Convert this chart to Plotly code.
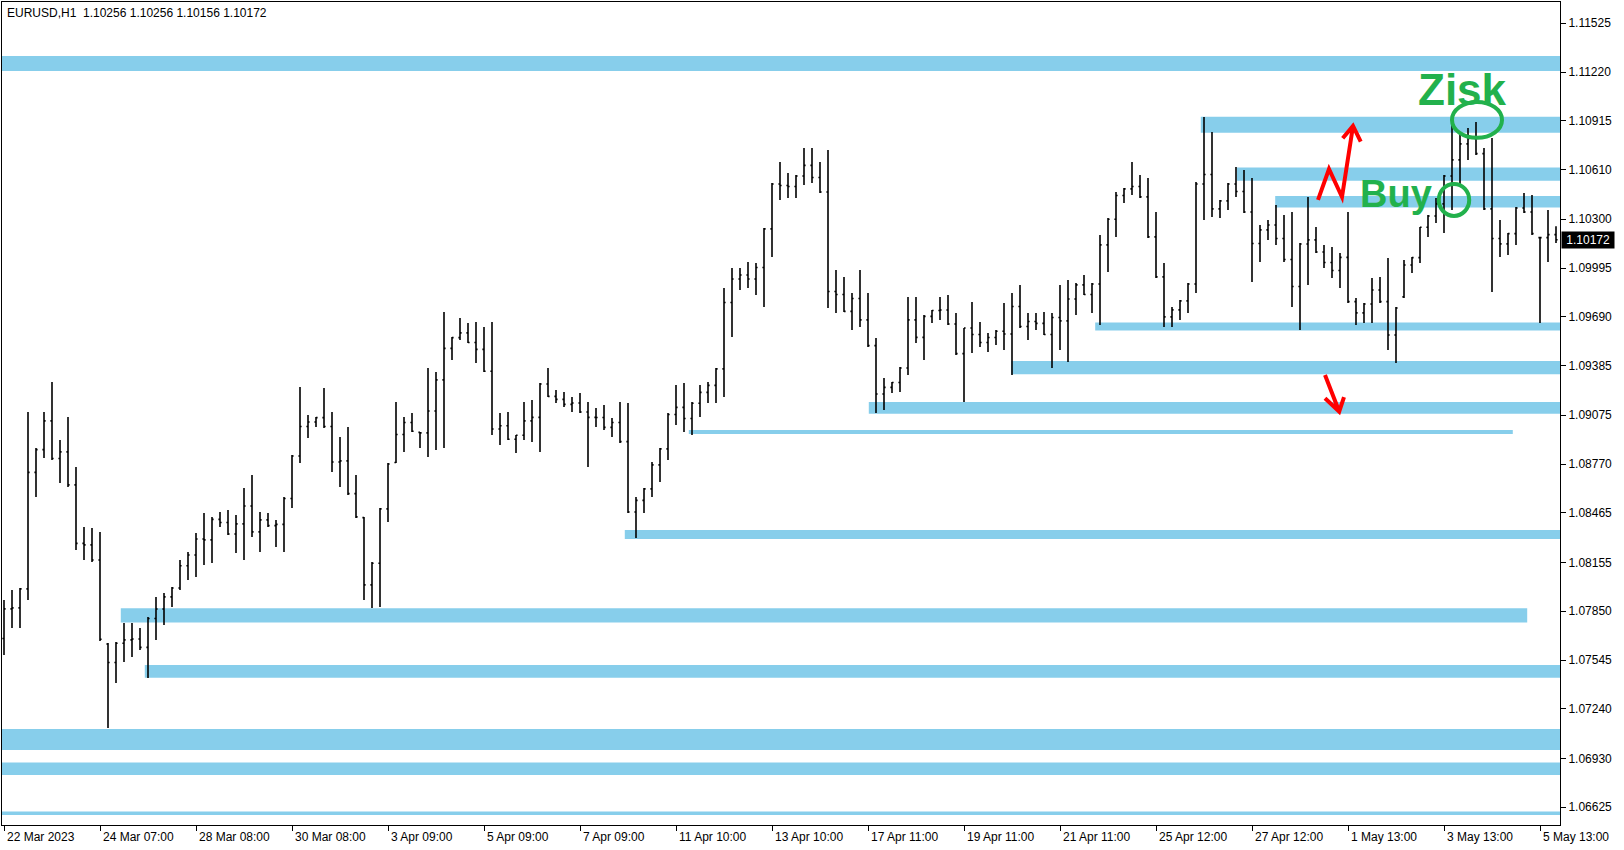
import plotly.graph_objects as go

# ---------------- data (EURUSD, 4-hour bars) ----------------
bar_open = [
1.07680,1.07865,1.07871,1.07990,1.08718,1.08860,1.09040,1.08805,1.08846,1.08640,
1.08274,1.08265,1.08170,1.07645,1.07530,1.07650,1.07671,1.07677,1.07624,1.07805,
1.07864,1.07940,1.07995,1.08134,1.08202,1.08302,1.08296,1.08424,1.08405,1.08333,
1.08396,1.08508,1.08346,1.08421,1.08385,1.08393,1.08555,1.08820,1.09005,1.09033,
1.09060,1.09005,1.08783,1.08790,1.08585,1.08435,1.08015,1.08150,1.08490,1.08780,
1.08955,1.09030,1.08968,1.08965,1.09102,1.09296,1.09493,1.09560,1.09590,1.09530,
1.09487,1.09350,1.08989,1.09009,1.08925,1.08950,1.09040,1.09062,1.09270,1.09193,
1.09174,1.09143,1.09152,1.09095,1.09062,1.09061,1.08999,1.09030,1.08910,1.08470,
1.08543,1.08615,1.08765,1.08865,1.09080,1.09124,1.09055,1.09150,1.09218,1.09262,
1.09365,1.09780,1.09927,1.09952,1.09927,1.09999,1.10240,1.10520,1.10511,1.10505,
1.10570,1.10637,1.10561,1.10470,1.09849,1.09830,1.09724,1.09805,1.09671,1.09510,
1.09208,1.09249,1.09280,1.09370,1.09671,1.09562,1.09693,1.09730,1.09733,1.09645,
1.09460,1.09620,1.09580,1.09530,1.09561,1.09600,1.09583,1.09755,1.09630,1.09661,
1.09649,1.09580,1.09686,1.09665,1.09802,1.09890,1.09830,1.09895,1.10140,1.10300,
1.10449,1.10490,1.10505,1.10440,1.10190,1.09940,1.09690,1.09734,1.09790,1.09895,
1.10520,1.10580,1.10365,1.10415,1.10520,1.10474,1.10345,1.10149,1.10234,1.10264,
1.10180,1.10049,1.09880,1.10145,1.10171,1.10095,1.10030,1.09980,1.10062,1.09785,
1.09715,1.09770,1.09858,1.09785,1.09577,1.09815,1.10014,1.10060,1.10250,1.10320,
1.10396,1.10570,1.10671,1.10771,1.10805,1.10710,1.10365,1.10180,1.10146,1.10210,
1.10370,1.10345,1.10185,1.10185,1.10204]

bar_high = [
1.07921,1.07983,1.07996,1.09096,1.08871,1.09096,1.09283,1.08921,1.09064,1.08752,
1.08377,1.08371,1.08346,1.07652,1.07658,1.07777,1.07777,1.07746,1.07814,1.07939,
1.07964,1.08002,1.08171,1.08221,1.08339,1.08464,1.08439,1.08471,1.08483,1.08452,
1.08621,1.08702,1.08471,1.08464,1.08421,1.08564,1.08827,1.09252,1.09077,1.09064,
1.09246,1.09096,1.08939,1.09002,1.08702,1.08439,1.08158,1.08496,1.08777,1.09158,
1.09064,1.09089,1.08971,1.09371,1.09346,1.09721,1.09564,1.09683,1.09652,1.09658,
1.09627,1.09658,1.09089,1.09096,1.08952,1.09158,1.09171,1.09277,1.09371,1.09233,
1.09221,1.09189,1.09214,1.09158,1.09121,1.09139,1.09058,1.09158,1.09152,1.08564,
1.08621,1.08783,1.08871,1.09089,1.09264,1.09277,1.09158,1.09264,1.09283,1.09371,
1.09871,1.09996,1.09996,1.10033,1.10027,1.10246,1.10527,1.10658,1.10589,1.10577,
1.10746,1.10746,1.10658,1.10733,1.09983,1.09939,1.09839,1.09983,1.09839,1.09558,
1.09308,1.09283,1.09377,1.09814,1.09814,1.09702,1.09733,1.09814,1.09827,1.09714,
1.09621,1.09783,1.09658,1.09589,1.09608,1.09777,1.09839,1.09889,1.09714,1.09714,
1.09721,1.09714,1.09889,1.09921,1.09902,1.09952,1.09902,1.10202,1.10308,1.10471,
1.10496,1.10658,1.10577,1.10558,1.10346,1.10027,1.09752,1.09796,1.09902,1.10533,
1.10939,1.10846,1.10421,1.10527,1.10627,1.10608,1.10558,1.10264,1.10296,1.10389,
1.10327,1.10346,1.10152,1.10439,1.10252,1.10139,1.10127,1.10089,1.10346,1.09808,
1.09777,1.09933,1.09939,1.10058,1.09752,1.10046,1.10064,1.10252,1.10327,1.10433,
1.10577,1.10889,1.10839,1.10871,1.10908,1.10746,1.10808,1.10296,1.10214,1.10377,
1.10464,1.10452,1.10189,1.10358,1.10256]

bar_low = [
1.07577,1.07746,1.07746,1.07921,1.08564,1.08808,1.08796,1.08652,1.08627,1.08233,
1.08171,1.08158,1.07664,1.07121,1.07402,1.07533,1.07564,1.07608,1.07433,1.07671,
1.07764,1.07877,1.07983,1.08046,1.08064,1.08139,1.08152,1.08377,1.08327,1.08214,
1.08171,1.08314,1.08221,1.08377,1.08252,1.08221,1.08496,1.08777,1.08933,1.09002,
1.08996,1.08721,1.08627,1.08577,1.08433,1.07921,1.07871,1.07877,1.08408,1.08777,
1.08846,1.08971,1.08871,1.08814,1.08858,1.08871,1.09421,1.09546,1.09527,1.09402,
1.09346,1.08952,1.08889,1.08921,1.08839,1.08921,1.08908,1.08846,1.09189,1.09152,
1.09127,1.09096,1.09089,1.08752,1.09002,1.08983,1.08939,1.08902,1.08464,1.08308,
1.08464,1.08564,1.08658,1.08796,1.09014,1.08971,1.08952,1.09064,1.09152,1.09152,
1.09189,1.09564,1.09858,1.09871,1.09827,1.09752,1.10064,1.10421,1.10433,1.10433,
1.10514,1.10527,1.10464,1.09746,1.09714,1.09721,1.09608,1.09627,1.09502,1.09089,
1.09108,1.09214,1.09221,1.09327,1.09527,1.09421,1.09652,1.09671,1.09639,1.09452,
1.09158,1.09464,1.09502,1.09471,1.09514,1.09483,1.09327,1.09621,1.09546,1.09608,
1.09577,1.09371,1.09483,1.09408,1.09702,1.09827,1.09714,1.09639,1.09971,1.10189,
1.10402,1.10452,1.10433,1.10183,1.09933,1.09627,1.09627,1.09671,1.09714,1.09839,
1.10296,1.10314,1.10308,1.10358,1.10439,1.10339,1.09908,1.10033,1.10171,1.10139,
1.10033,1.09752,1.09608,1.09889,1.10089,1.09996,1.09933,1.09871,1.09777,1.09639,
1.09652,1.09652,1.09777,1.09483,1.09402,1.09808,1.09964,1.10027,1.10189,1.10277,
1.10214,1.10358,1.10502,1.10671,1.10702,1.10358,1.09846,1.10064,1.10077,1.10139,
1.10339,1.10202,1.09652,1.10033,1.10152]

bar_close = [
1.07865,1.07871,1.07990,1.08718,1.08860,1.09040,1.08805,1.08846,1.08640,1.08274,
1.08265,1.08170,1.07675,1.07530,1.07650,1.07671,1.07677,1.07624,1.07805,1.07864,
1.07940,1.07995,1.08134,1.08202,1.08302,1.08296,1.08424,1.08405,1.08333,1.08396,
1.08508,1.08346,1.08421,1.08385,1.08393,1.08555,1.08820,1.09005,1.09033,1.09060,
1.09005,1.08783,1.08790,1.08585,1.08440,1.08015,1.08150,1.08490,1.08770,1.08955,
1.09030,1.08975,1.08965,1.09102,1.09296,1.09493,1.09560,1.09590,1.09530,1.09487,
1.09350,1.08989,1.09009,1.08925,1.08950,1.09040,1.09062,1.09270,1.09193,1.09174,
1.09143,1.09152,1.09095,1.09062,1.09061,1.08999,1.09030,1.08910,1.08470,1.08543,
1.08615,1.08765,1.08865,1.09080,1.09124,1.09055,1.09150,1.09218,1.09262,1.09365,
1.09780,1.09927,1.09952,1.09927,1.09999,1.10240,1.10520,1.10511,1.10505,1.10570,
1.10637,1.10561,1.10470,1.09849,1.09830,1.09724,1.09805,1.09671,1.09510,1.09208,
1.09249,1.09280,1.09370,1.09671,1.09562,1.09693,1.09730,1.09733,1.09645,1.09460,
1.09620,1.09580,1.09530,1.09561,1.09600,1.09583,1.09755,1.09630,1.09661,1.09649,
1.09580,1.09686,1.09665,1.09802,1.09890,1.09830,1.09895,1.10140,1.10300,1.10449,
1.10490,1.10505,1.10440,1.10190,1.09940,1.09690,1.09734,1.09790,1.09895,1.10520,
1.10580,1.10365,1.10415,1.10520,1.10474,1.10345,1.10149,1.10234,1.10264,1.10180,
1.10049,1.09880,1.10145,1.10171,1.10095,1.10030,1.09980,1.10062,1.09785,1.09715,
1.09770,1.09858,1.09785,1.09577,1.09745,1.10014,1.10060,1.10250,1.10320,1.10396,
1.10570,1.10671,1.10771,1.10805,1.10710,1.10365,1.10180,1.10146,1.10210,1.10370,
1.10345,1.10210,1.10185,1.10204,1.10172]

# x-axis date labels (one every 12 four-hour bars = 2 trading days)
x_labels = ["22 Mar 2023", "24 Mar 07:00", "28 Mar 08:00", "30 Mar 08:00", "3 Apr 09:00",
            "5 Apr 09:00", "7 Apr 09:00", "11 Apr 10:00", "13 Apr 10:00", "17 Apr 11:00",
            "19 Apr 11:00", "21 Apr 11:00", "25 Apr 12:00", "27 Apr 12:00", "1 May 13:00",
            "3 May 13:00", "5 May 13:00"]
label_bars = [0, 12, 24, 36, 48, 60, 72, 84, 96, 108, 120, 132, 144, 156, 168, 180, 192]

# price scale labels
y_ticks = [1.11525, 1.11220, 1.10915, 1.10610, 1.10300, 1.09995, 1.09690, 1.09385, 1.09075,
           1.08770, 1.08465, 1.08155, 1.07850, 1.07545, 1.07240, 1.06930, 1.06625]

# support / resistance zones
zone_lo = [1.11227, 1.10841, 1.10541, 1.10373, 1.09604, 1.09331, 1.09085, 1.08958, 1.08302,
           1.07779, 1.07435, 1.06983, 1.06827, 1.06577]
zone_hi = [1.11321, 1.10941, 1.10623, 1.10446, 1.09654, 1.09414, 1.09158, 1.08983, 1.08358,
           1.07869, 1.07514, 1.07114, 1.06904, 1.06598]
zone_from = [None, 149.6, 154.1, 158.9, 136.4, 125.9, 108.1, 85.6, 77.6, 14.6, 17.6, None, None, None]
zone_to = [None, None, None, None, None, None, None, 188.6, None, 190.4, None, None, None, None]

header = "EURUSD,H1\u00a0\u00a01.10256 1.10256 1.10156 1.10172"

# ---------------- figure ----------------
X_MIN, X_MAX = -0.25, 194.5
Y_MIN, Y_MAX = 1.06514, 1.11658
FONT = "Liberation Sans, Arial, sans-serif"
GREEN = "#22B14C"
BLUE = "#87CEEB"

x = list(range(len(bar_close)))

fig = go.Figure()
fig.add_trace(go.Ohlc(
    x=x, open=bar_open, high=bar_high, low=bar_low, close=bar_close,
    increasing=dict(line=dict(color="black", width=1.6)),
    decreasing=dict(line=dict(color="black", width=1.6)),
    tickwidth=0.2, hoverinfo="skip", showlegend=False))

shapes = []
for lo, hi, a, b in zip(zone_lo, zone_hi, zone_from, zone_to):
    shapes.append(dict(type="rect", xref="x", yref="y",
                       x0=X_MIN if a is None else a, x1=X_MAX if b is None else b,
                       y0=lo, y1=hi, fillcolor=BLUE, line=dict(width=0), layer="below"))

# hand-drawn marks
shapes.append(dict(type="circle", xref="x", yref="y", x0=181.0, x1=187.25, y0=1.10809, y1=1.11033,
                   line=dict(color=GREEN, width=4), layer="above"))
shapes.append(dict(type="circle", xref="x", yref="y", x0=179.35, x1=183.15, y0=1.10321, y1=1.10520,
                   line=dict(color=GREEN, width=4), layer="above"))
shapes.append(dict(type="path", xref="x", yref="y",
                   path="M 164.25,1.10421 L 165.625,1.10614 L 167.25,1.10439 L 168.625,1.10883 "
                        "M 167.34,1.10806 L 168.625,1.10883 L 169.59,1.10785",
                   line=dict(color="red", width=4), layer="above"))
shapes.append(dict(type="path", xref="x", yref="y",
                   path="M 165.125,1.09327 L 166.9,1.09098 M 165.125,1.09181 L 166.9,1.09098 L 167.5,1.09188",
                   line=dict(color="red", width=4), layer="above"))

annotations = []
for b, t in zip(label_bars, x_labels):
    annotations.append(dict(x=b, y=0, xref="x", yref="paper", text=t, showarrow=False,
                            xanchor="left", yanchor="top", xshift=1, yshift=-3,
                            font=dict(family=FONT, size=12, color="black")))
annotations.append(dict(x=0, y=1, xref="paper", yref="paper", text=header, showarrow=False,
                        xanchor="left", yanchor="top", xshift=3, yshift=-2,
                        font=dict(family=FONT, size=12, color="black")))
annotations.append(dict(x=1, y=bar_close[-1], xref="paper", yref="y",
                        text="\u00a0" + f"{bar_close[-1]:.5f}" + "\u00a0",
                        showarrow=False, xanchor="left", yanchor="middle", xshift=1,
                        bgcolor="black", borderpad=1,
                        font=dict(family=FONT, size=12, color="white")))
annotations.append(dict(x=182.25, y=1.11110, xref="x", yref="y", text="<b>Zisk</b>", showarrow=False,
                        xanchor="center", yanchor="middle",
                        font=dict(family=FONT, size=44, color=GREEN)))
annotations.append(dict(x=174.0, y=1.10458, xref="x", yref="y", text="<b>Buy</b>", showarrow=False,
                        xanchor="center", yanchor="middle",
                        font=dict(family=FONT, size=38, color=GREEN)))

fig.update_layout(
    width=1624, height=850,
    margin=dict(l=2, r=64, t=2, b=25),
    paper_bgcolor="white", plot_bgcolor="white",
    showlegend=False,
    shapes=shapes, annotations=annotations,
    xaxis=dict(range=[X_MIN, X_MAX], showgrid=False, zeroline=False,
               showline=True, linecolor="black", linewidth=1, mirror=True,
               ticks="outside", ticklen=5, tickcolor="black",
               tickvals=label_bars, showticklabels=False,
               rangeslider=dict(visible=False), fixedrange=True),
    yaxis=dict(range=[Y_MIN, Y_MAX], side="right", showgrid=False, zeroline=False,
               showline=True, linecolor="black", linewidth=1, mirror=True,
               ticks="outside", ticklen=5, tickcolor="black",
               tickvals=y_ticks, ticktext=[f"{v:.5f}" for v in y_ticks],
               tickfont=dict(family=FONT, size=12, color="black"), fixedrange=True),
)

fig.write_html("out.html", config=dict(displayModeBar=False),
               post_script="document.body.style.margin='0px';document.body.style.overflow='hidden';")
